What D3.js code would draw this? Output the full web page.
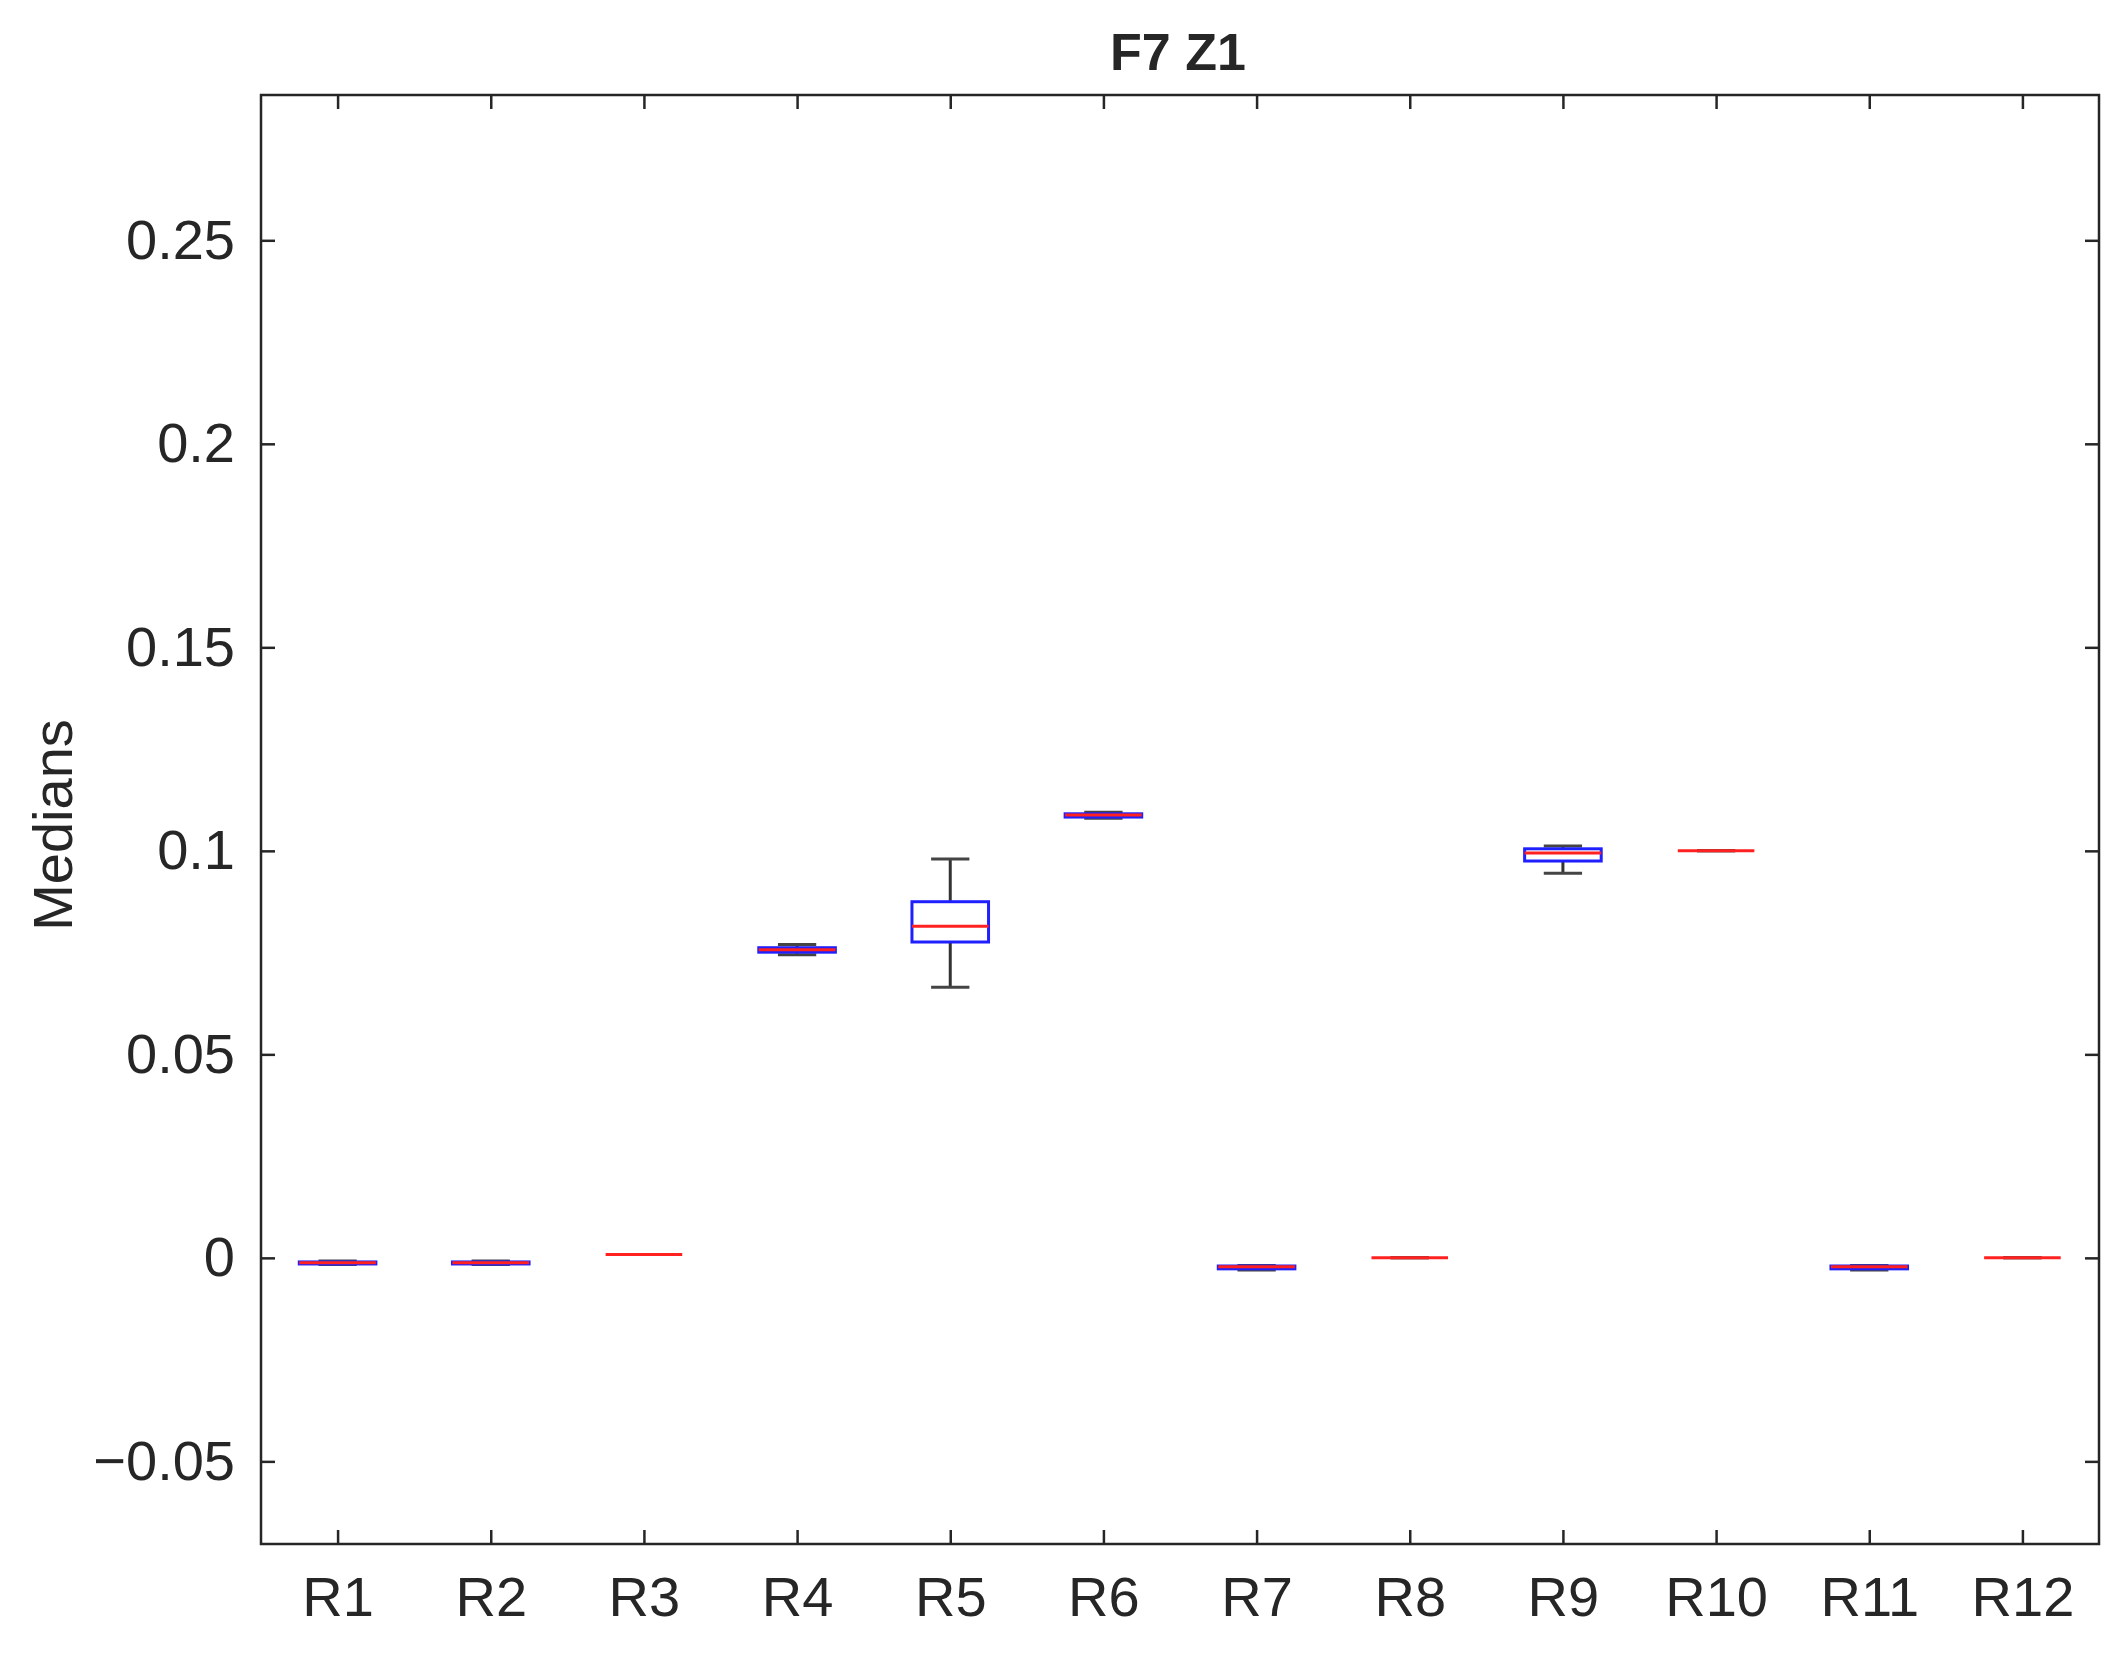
<!DOCTYPE html>
<html>
<head>
<meta charset="UTF-8">
<script src="https://d3js.org/d3.v7.min.js"></script>
<style>
  body { margin: 0; background: #fff; }
  text { font-family: "Liberation Sans", Arial, sans-serif; fill: #262626; }
</style>
</head>
<body>
<svg id="chart" width="2117" height="1655"></svg>
<script>
// box stats
const categories = ["R1","R2","R3","R4","R5","R6","R7","R8","R9","R10","R11","R12"];
const lowWhisker = [-0.0016,-0.0016,0.0008,0.0745,0.0665,0.1080,-0.0030,0.0000,0.0945,0.1000,-0.0030,0.0000];
const q1 =         [-0.0015,-0.0015,0.0008,0.0751,0.0776,0.1083,-0.0027,0.0000,0.0975,0.1000,-0.0027,0.0000];
const median =     [-0.0012,-0.0012,0.0008,0.0757,0.0815,0.1088,-0.0022,0.0000,0.0995,0.1000,-0.0022,0.0000];
const q3 =         [-0.0010,-0.0010,0.0008,0.0762,0.0875,0.1091,-0.0020,0.0000,0.1005,0.1000,-0.0020,0.0000];
const highWhisker =[-0.0008,-0.0008,0.0008,0.0770,0.0980,0.1095,-0.0019,0.0000,0.1012,0.1000,-0.0019,0.0000];
const yTicks = [-0.05, 0, 0.05, 0.1, 0.15, 0.2, 0.25];

const L = 261, R = 2099, T = 95, B = 1544;
const svg = d3.select("#chart");

const x = d3.scalePoint().domain(categories).range([L, R]).padding(0.5);
const y = d3.scaleLinear().domain([-0.0703, 0.2857]).range([B, T]);
const bw = x.step() * 0.25;

// axes with inward ticks
const fmt = d => d === 0 ? "0" : (d < 0 ? "\u22120" + String(Math.abs(d)).slice(1) : String(d));
const yl = svg.append("g").attr("transform", `translate(${L},0)`)
  .call(d3.axisLeft(y).tickValues(yTicks).tickSize(-14).tickPadding(26).tickFormat(fmt));
const yr = svg.append("g").attr("transform", `translate(${R},0)`)
  .call(d3.axisRight(y).tickValues(yTicks).tickSize(-14).tickFormat(""));
const xb = svg.append("g").attr("transform", `translate(0,${B})`)
  .call(d3.axisBottom(x).tickSize(-14).tickPadding(32));
const xt = svg.append("g").attr("transform", `translate(0,${T})`)
  .call(d3.axisTop(x).tickSize(-14).tickFormat(""));
[yl, yr, xb, xt].forEach(g => {
  g.select(".domain").remove();
  g.selectAll("line").attr("stroke", "#262626").attr("stroke-width", 2.5);
  g.selectAll("text").style("font-size", "56px").attr("fill", "#262626");
});
svg.append("rect").attr("x", L).attr("y", T).attr("width", R - L).attr("height", B - T)
  .attr("fill", "none").attr("stroke", "#262626").attr("stroke-width", 2.5);

// boxes
const idx = d3.range(categories.length);
const g = svg.append("g");
idx.forEach(i => {
  const cx = x(categories[i]);
  const bg = g.append("g");
  bg.append("line").attr("x1", cx).attr("x2", cx).attr("y1", y(q3[i])).attr("y2", y(highWhisker[i]))
    .attr("stroke", "#333").attr("stroke-width", 3);
  bg.append("line").attr("x1", cx).attr("x2", cx).attr("y1", y(q1[i])).attr("y2", y(lowWhisker[i]))
    .attr("stroke", "#333").attr("stroke-width", 3);
  [highWhisker[i], lowWhisker[i]].forEach(v => bg.append("line")
    .attr("x1", cx - bw / 2).attr("x2", cx + bw / 2).attr("y1", y(v)).attr("y2", y(v))
    .attr("stroke", "#444").attr("stroke-width", 3));
  bg.append("rect").attr("x", cx - bw).attr("width", 2 * bw)
    .attr("y", y(q3[i])).attr("height", Math.max(0, y(q1[i]) - y(q3[i])))
    .attr("fill", "none").attr("stroke", "#2020ff").attr("stroke-width", 3);
  bg.append("line").attr("x1", cx - bw).attr("x2", cx + bw).attr("y1", y(median[i])).attr("y2", y(median[i]))
    .attr("stroke", "#ff2020").attr("stroke-width", 3);
});

svg.append("text").attr("x", 1178).attr("y", 70).attr("text-anchor", "middle")
  .style("font-size", "52px").style("font-weight", "bold").attr("fill", "#111").text("F7 Z1");
svg.append("text").attr("transform", "translate(72,825) rotate(-90)").attr("text-anchor", "middle")
  .style("font-size", "56px").text("Medians");
</script>
</body>
</html>
